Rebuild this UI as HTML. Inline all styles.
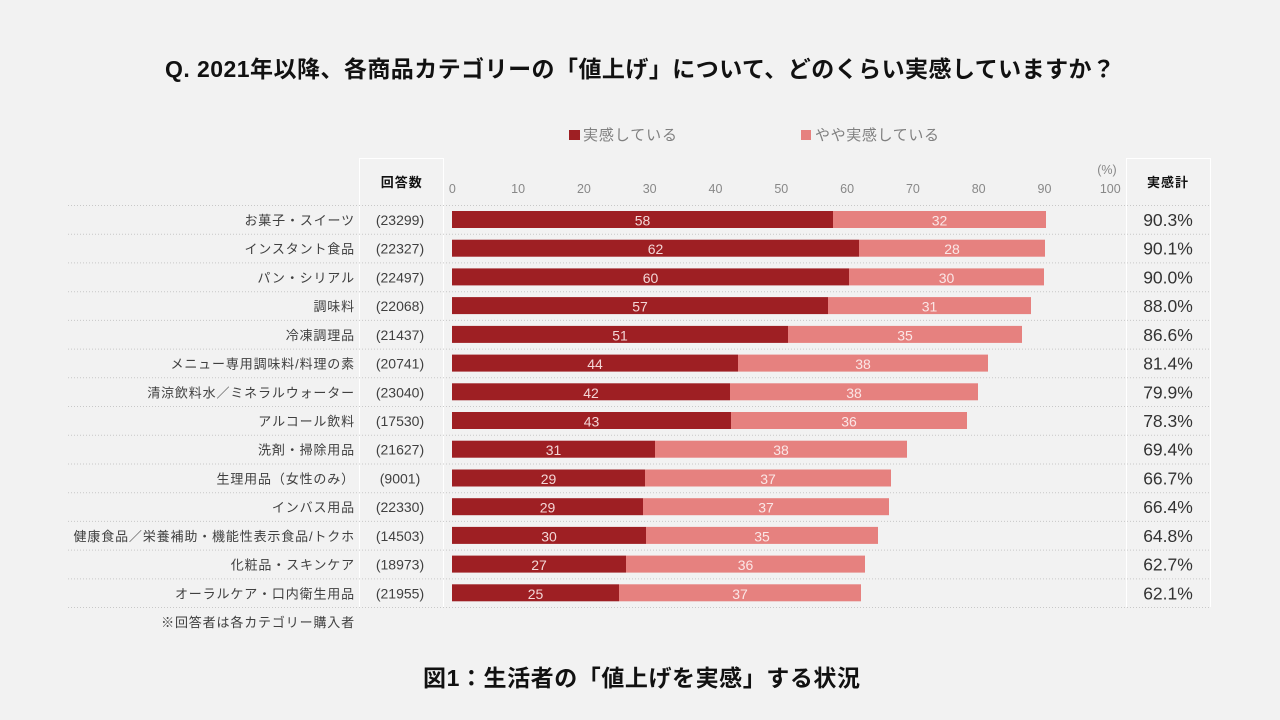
<!DOCTYPE html>
<html><head><meta charset="utf-8">
<style>
html,body{margin:0;padding:0;background:#f2f2f2;}
svg{display:block;}
.jp{font-family:"Liberation Sans","Noto Sans CJK JP",sans-serif;}
</style></head>
<body>
<svg width="1280" height="720" viewBox="0 0 1280 720" xmlns="http://www.w3.org/2000/svg" class="jp">
<rect x="0" y="0" width="1280" height="720" fill="#f2f2f2"/>
<text x="165" y="77" font-size="23" font-weight="700" fill="#111" textLength="950" lengthAdjust="spacing">Q. 2021年以降、各商品カテゴリーの「値上げ」について、どのくらい実感していますか？</text>
<rect x="569" y="130" width="11" height="10" fill="#9e1f23"/>
<text x="583" y="140" font-size="15" fill="#808080" textLength="94" lengthAdjust="spacing">実感している</text>
<rect x="801" y="130" width="10" height="10" fill="#e6817f"/>
<text x="815" y="140" font-size="15" fill="#808080" textLength="124" lengthAdjust="spacing">やや実感している</text>
<g stroke="#ffffff" stroke-width="1" fill="none">
<path d="M359.5 607 V158.5 H443.5 V607"/>
<path d="M1126.5 607 V158.5 H1210.5 V607"/>
</g>
<text x="401.7" y="187" font-size="13" font-weight="700" fill="#111" text-anchor="middle" letter-spacing="1">回答数</text>
<text x="1168" y="187" font-size="13" font-weight="700" fill="#111" text-anchor="middle" letter-spacing="1">実感計</text>
<text x="1107" y="174" font-size="12.5" fill="#888" text-anchor="middle">(%)</text>
<g font-size="12.5" fill="#888" text-anchor="middle">
<text x="452.3" y="193">0</text><text x="518.1" y="193">10</text><text x="583.9" y="193">20</text><text x="649.7" y="193">30</text><text x="715.5" y="193">40</text><text x="781.3" y="193">50</text><text x="847.1" y="193">60</text><text x="912.9" y="193">70</text><text x="978.7" y="193">80</text><text x="1044.5" y="193">90</text><text x="1110.3" y="193">100</text>
</g>
<g stroke="#c8c8c8" stroke-width="1" stroke-dasharray="1,2">
<line x1="68" x2="1211" y1="205.5" y2="205.5"/>
<line x1="68" x2="1211" y1="234.2" y2="234.2"/>
<line x1="68" x2="1211" y1="262.9" y2="262.9"/>
<line x1="68" x2="1211" y1="291.7" y2="291.7"/>
<line x1="68" x2="1211" y1="320.4" y2="320.4"/>
<line x1="68" x2="1211" y1="349.1" y2="349.1"/>
<line x1="68" x2="1211" y1="377.8" y2="377.8"/>
<line x1="68" x2="1211" y1="406.5" y2="406.5"/>
<line x1="68" x2="1211" y1="435.3" y2="435.3"/>
<line x1="68" x2="1211" y1="464.0" y2="464.0"/>
<line x1="68" x2="1211" y1="492.7" y2="492.7"/>
<line x1="68" x2="1211" y1="521.4" y2="521.4"/>
<line x1="68" x2="1211" y1="550.1" y2="550.1"/>
<line x1="68" x2="1211" y1="578.9" y2="578.9"/>
<line x1="68" x2="1211" y1="607.5" y2="607.5"/>
</g>
<!-- rows -->
<g font-size="13" fill="#404040" text-anchor="end" letter-spacing="0.85">
<text x="355" y="225">お菓子・スイーツ</text>
<text x="355" y="253.7">インスタント食品</text>
<text x="355" y="282.4">パン・シリアル</text>
<text x="355" y="311.1">調味料</text>
<text x="355" y="339.9">冷凍調理品</text>
<text x="355" y="368.6">メニュー専用調味料/料理の素</text>
<text x="355" y="397.3">清涼飲料水／ミネラルウォーター</text>
<text x="355" y="426">アルコール飲料</text>
<text x="355" y="454.7">洗剤・掃除用品</text>
<text x="355" y="483.5">生理用品（女性のみ）</text>
<text x="355" y="512.2">インバス用品</text>
<text x="355" y="540.9">健康食品／栄養補助・機能性表示食品/トクホ</text>
<text x="355" y="569.6">化粧品・スキンケア</text>
<text x="355" y="598.3">オーラルケア・口内衛生用品</text>
<text x="355" y="627">※回答者は各カテゴリー購入者</text>
</g>
<g font-size="14" fill="#404040" text-anchor="middle">
<text x="400" y="225">(23299)</text>
<text x="400" y="253.7">(22327)</text>
<text x="400" y="282.4">(22497)</text>
<text x="400" y="311.1">(22068)</text>
<text x="400" y="339.9">(21437)</text>
<text x="400" y="368.6">(20741)</text>
<text x="400" y="397.3">(23040)</text>
<text x="400" y="426">(17530)</text>
<text x="400" y="454.7">(21627)</text>
<text x="400" y="483.5">(9001)</text>
<text x="400" y="512.2">(22330)</text>
<text x="400" y="540.9">(14503)</text>
<text x="400" y="569.6">(18973)</text>
<text x="400" y="598.3">(21955)</text>
</g>
<g font-size="17.5" fill="#333" text-anchor="middle">
<text x="1168" y="226">90.3%</text>
<text x="1168" y="254.7">90.1%</text>
<text x="1168" y="283.4">90.0%</text>
<text x="1168" y="312.1">88.0%</text>
<text x="1168" y="340.9">86.6%</text>
<text x="1168" y="369.6">81.4%</text>
<text x="1168" y="398.3">79.9%</text>
<text x="1168" y="427">78.3%</text>
<text x="1168" y="455.7">69.4%</text>
<text x="1168" y="484.5">66.7%</text>
<text x="1168" y="513.2">66.4%</text>
<text x="1168" y="541.9">64.8%</text>
<text x="1168" y="570.6">62.7%</text>
<text x="1168" y="599.3">62.1%</text>
</g>
<g>
<rect x="452" y="211" width="381" height="17" fill="#9e1f23"/><rect x="833" y="211" width="213" height="17" fill="#e6817f"/>
<rect x="452" y="239.7" width="407" height="17" fill="#9e1f23"/><rect x="859" y="239.7" width="186" height="17" fill="#e6817f"/>
<rect x="452" y="268.4" width="397" height="17" fill="#9e1f23"/><rect x="849" y="268.4" width="195" height="17" fill="#e6817f"/>
<rect x="452" y="297.1" width="376" height="17" fill="#9e1f23"/><rect x="828" y="297.1" width="203" height="17" fill="#e6817f"/>
<rect x="452" y="325.9" width="336" height="17" fill="#9e1f23"/><rect x="788" y="325.9" width="234" height="17" fill="#e6817f"/>
<rect x="452" y="354.6" width="286" height="17" fill="#9e1f23"/><rect x="738" y="354.6" width="250" height="17" fill="#e6817f"/>
<rect x="452" y="383.3" width="278" height="17" fill="#9e1f23"/><rect x="730" y="383.3" width="248" height="17" fill="#e6817f"/>
<rect x="452" y="412" width="279" height="17" fill="#9e1f23"/><rect x="731" y="412" width="236" height="17" fill="#e6817f"/>
<rect x="452" y="440.7" width="203" height="17" fill="#9e1f23"/><rect x="655" y="440.7" width="252" height="17" fill="#e6817f"/>
<rect x="452" y="469.5" width="193" height="17" fill="#9e1f23"/><rect x="645" y="469.5" width="246" height="17" fill="#e6817f"/>
<rect x="452" y="498.2" width="191" height="17" fill="#9e1f23"/><rect x="643" y="498.2" width="246" height="17" fill="#e6817f"/>
<rect x="452" y="526.9" width="194" height="17" fill="#9e1f23"/><rect x="646" y="526.9" width="232" height="17" fill="#e6817f"/>
<rect x="452" y="555.6" width="174" height="17" fill="#9e1f23"/><rect x="626" y="555.6" width="239" height="17" fill="#e6817f"/>
<rect x="452" y="584.3" width="167" height="17" fill="#9e1f23"/><rect x="619" y="584.3" width="242" height="17" fill="#e6817f"/>
</g>
<g font-size="14" text-anchor="middle">
<g fill="#f3d6d6">
<text x="642.5" y="225.5">58</text>
<text x="655.5" y="254.2">62</text>
<text x="650.5" y="282.9">60</text>
<text x="640" y="311.6">57</text>
<text x="620" y="340.4">51</text>
<text x="595" y="369.1">44</text>
<text x="591" y="397.8">42</text>
<text x="591.5" y="426.5">43</text>
<text x="553.5" y="455.2">31</text>
<text x="548.5" y="484">29</text>
<text x="547.5" y="512.7">29</text>
<text x="549" y="541.4">30</text>
<text x="539" y="570.1">27</text>
<text x="535.5" y="598.8">25</text>
</g>
<g fill="#fbe6e6">
<text x="939.5" y="225.5">32</text>
<text x="952" y="254.2">28</text>
<text x="946.5" y="282.9">30</text>
<text x="929.5" y="311.6">31</text>
<text x="905" y="340.4">35</text>
<text x="863" y="369.1">38</text>
<text x="854" y="397.8">38</text>
<text x="849" y="426.5">36</text>
<text x="781" y="455.2">38</text>
<text x="768" y="484">37</text>
<text x="766" y="512.7">37</text>
<text x="762" y="541.4">35</text>
<text x="745.5" y="570.1">36</text>
<text x="740" y="598.8">37</text>
</g>
</g>
<text x="423" y="686" font-size="23" font-weight="700" fill="#111" textLength="437" lengthAdjust="spacing">図1：生活者の「値上げを実感」する状況</text>
</svg>
</body></html>
